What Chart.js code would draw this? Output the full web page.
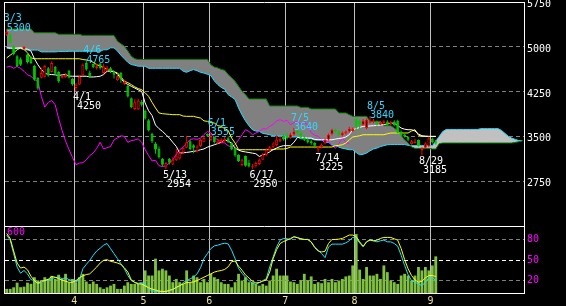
<!DOCTYPE html>
<html>
<head>
<meta charset="utf-8">
<script src="https://cdn.jsdelivr.net/npm/chart.js@4.4.0/dist/chart.umd.min.js"></script>
<style>
  html, body { margin: 0; padding: 0; background: #000; }
  #wrap { position: relative; width: 566px; height: 306px; background: #000; overflow: hidden; }
  #priceCanvas { position: absolute; left: 0; top: 0; }
  #oscCanvas { position: absolute; left: 0; top: 226px; }
</style>
</head>
<body>
<div id="wrap">
  <canvas id="priceCanvas" width="566" height="226"></canvas>
  <canvas id="oscCanvas" width="566" height="80"></canvas>
</div>
<script>
// Trading days (month/day)
const marDays = [3,4,7,8,9,10,11,14,15,16,17,18,22,23,24,25,28,29,30,31];
const aprDays = [1,4,5,6,7,8,11,12,13,14,15,18,19,20,21,22,25,26,27,28];
const mayDays = [2,6,9,10,11,12,13,16,17,18,19,20,23,24,25,26,27,30,31];
const junDays = [1,2,3,6,7,8,9,10,13,14,15,16,17,20,21,22,23,24,27,28,29,30];
const julDays = [1,4,5,6,7,8,11,12,13,14,15,19,20,21,22,25,26,27,28,29];
const augDays = [1,2,3,4,5,8,9,10,12,15,16,17,18,19,22,23,24,25,26,29,30,31];
const sepDays = [1,2];
const futureSlots = 25;

// Candles
const opens = [5200,5200,5010,4840,4790,4960,4870,4820,4680,4480,
  4480,4500,4640,4580,4660,4580,4480,4490,4600,4460,
  4310,4370,4520,4730,4560,4710,4640,4720,4560,4600,
  4640,4590,4440,4560,4380,4350,4140,3960,3950,4080,
  3930,3770,3545,3380,3290,3120,2990,3120,3030,3100,
  3130,3230,3310,3420,3350,3250,3340,3410,3545,3440,
  3490,3390,3400,3420,3470,3390,3300,3190,3020,3170,
  3060,2990,3000,3040,3110,3190,3270,3320,3350,3420,
  3500,3520,3470,3530,3600,3560,3480,3450,3420,3390,
  3280,3320,3380,3450,3540,3610,3580,3520,3550,3580,
  3590,3790,3760,3690,3640,3730,3740,3740,3700,3720,
  3750,3700,3750,3760,3580,3530,3490,3370,3390,3440,
  3270,3310,3330,3460,3420];
const highs = [5300,5230,5030,4860,4820,5010,4890,4840,4700,4490,
  4650,4700,4660,4760,4680,4590,4530,4560,4610,4480,
  4390,4520,4720,4765,4600,4720,4720,4730,4720,4680,
  4660,4600,4540,4580,4450,4360,4150,4120,4130,4110,
  3950,3790,3560,3400,3330,3140,3070,3140,3150,3290,
  3260,3320,3510,3440,3370,3350,3460,3510,3550,3555,
  3500,3460,3470,3490,3500,3400,3310,3200,3130,3180,
  3110,3040,3080,3130,3220,3300,3340,3400,3520,3500,
  3540,3560,3560,3640,3620,3580,3500,3470,3440,3400,
  3340,3380,3460,3550,3630,3630,3600,3580,3600,3660,
  3650,3800,3780,3790,3800,3840,3790,3760,3760,3780,
  3770,3760,3770,3780,3600,3550,3500,3440,3460,3450,
  3320,3400,3500,3480,3440];
const lows = [5180,5050,4860,4660,4680,4950,4720,4710,4430,4280,
  4470,4490,4500,4570,4530,4400,4470,4480,4470,4350,
  4250,4360,4510,4600,4480,4640,4620,4620,4550,4590,
  4560,4470,4430,4400,4360,4150,3970,3940,3940,4000,
  3780,3580,3390,3210,3130,2990,2954,3030,3020,3090,
  3110,3200,3300,3270,3220,3230,3320,3400,3490,3420,
  3380,3370,3380,3400,3390,3270,3160,3070,3000,2990,
  2980,2950,2980,3020,3100,3170,3250,3300,3330,3400,
  3430,3450,3460,3510,3530,3460,3420,3380,3360,3300,
  3225,3300,3370,3430,3520,3560,3510,3500,3530,3560,
  3580,3600,3620,3680,3620,3720,3720,3680,3690,3700,
  3680,3690,3670,3550,3500,3480,3420,3360,3380,3330,
  3185,3290,3320,3380,3360];
const closes = [5250,5070,4880,4680,4700,4995,4740,4730,4450,4300,
  4560,4680,4520,4730,4550,4420,4510,4530,4480,4370,
  4370,4500,4700,4620,4500,4658,4675,4640,4670,4640,
  4590,4530,4507,4451,4420,4170,3990,4070,4100,4030,
  3800,3600,3420,3280,3150,3025,3053,3060,3109,3180,
  3221,3300,3400,3290,3310,3330,3440,3472,3510,3500,
  3400,3430,3440,3460,3400,3280,3180,3090,3100,3010,
  2996,3008,3053,3109,3200,3277,3320,3380,3450,3460,
  3450,3470,3530,3580,3560,3480,3444,3400,3389,3344,
  3322,3360,3444,3528,3612,3584,3528,3556,3584,3630,
  3624,3668,3700,3760,3780,3752,3768,3696,3730,3752,
  3696,3740,3690,3560,3520,3500,3444,3420,3416,3344,
  3300,3380,3470,3400,3380];

// Ichimoku lines
const conversionLine = [4983,4980,4975,4980,4983,4970,4960,4930,4800,4700,
  4620,4560,4535,4535,4530,4520,4530,4535,4510,4507,
  4507,4507,4507,4507,4495,4495,4500,4507,4535,4591,
  4591,4591,4540,4470,4400,4370,4339,4310,4280,4255,
  4060,3930,3850,3690,3630,3584,3530,3472,3400,3332,
  3221,3225,3232,3240,3250,3260,3277,3290,3320,3340,
  3360,3380,3399,3444,3420,3389,3305,3270,3250,3240,
  3230,3220,3210,3164,3190,3210,3240,3280,3305,3330,
  3344,3344,3344,3400,3480,3490,3480,3472,3472,3450,
  3444,3444,3444,3444,3444,3455,3465,3472,3490,3528,
  3612,3630,3650,3668,3670,3675,3679,3685,3690,3696,
  3710,3720,3724,3680,3640,3620,3612,3612,3590,3540,
  3511,3505,3500,3500,3500];
const baseLine = [4815,4860,4900,4950,4983,4955,4900,4815,4800,4800,
  4800,4800,4800,4800,4800,4800,4800,4800,4800,4800,
  4800,4800,4787,4780,4770,4740,4700,4680,4650,4619,
  4600,4580,4563,4500,4423,4400,4367,4330,4300,4283,
  4230,4171,4070,3976,3893,3880,3875,3870,3864,3864,
  3864,3840,3836,3836,3836,3820,3808,3760,3752,3730,
  3724,3680,3668,3630,3600,3472,3389,3277,3277,3277,
  3277,3277,3277,3277,3277,3277,3277,3277,3289,3289,
  3289,3300,3322,3322,3322,3322,3322,3322,3322,3322,
  3322,3322,3322,3322,3322,3344,3350,3360,3389,3440,
  3490,3500,3511,3528,3528,3528,3528,3528,3528,3528,
  3544,3557,3557,3557,3557,3557,3557,3590,3612,3520,
  3500,3500,3500,3500,3500];
const spanA = [4983,4970,4970,4970,4970,4955,4945,4945,4945,4945,
  4915,4915,4915,4915,4915,4920,4920,4920,4925,4925,
  4925,4925,4925,4925,4925,4925,4925,4925,4950,4950,
  4983,4983,4930,4860,4800,4740,4703,4690,4675,4675,
  4675,4640,4640,4640,4640,4640,4640,4640,4640,4640,
  4640,4591,4573,4600,4619,4600,4573,4560,4540,4518,
  4430,4367,4320,4290,4199,4160,4116,3976,3860,3760,
  3680,3612,3590,3584,3550,3540,3528,3510,3510,3510,
  3510,3490,3490,3490,3490,3460,3460,3460,3460,3440,
  3440,3440,3400,3400,3360,3340,3322,3300,3290,3277,
  3277,3230,3193,3200,3221,3260,3290,3305,3330,3345,
  3360,3365,3365,3365,3365,3365,3350,3345,3345,3345,
  3345,3345,3345,3345,3420,3500,3580,3615,3615,3615,
  3615,3615,3615,3615,3615,3615,3615,3630,3630,3630,
  3630,3630,3630,3600,3550,3500,3470,3450,3430,3430];
const spanB = [5300,5300,5300,5300,5300,5300,5300,5300,5235,5235,
  5235,5235,5235,5235,5235,5210,5210,5210,5210,5210,
  5210,5210,5190,5190,5190,5190,5190,5190,5190,5190,
  5190,5190,5094,5050,5010,4930,4842,4800,4787,4787,
  4787,4787,4787,4787,4787,4787,4787,4787,4787,4787,
  4787,4787,4787,4787,4787,4787,4787,4787,4787,4700,
  4660,4647,4620,4607,4535,4480,4423,4340,4255,4200,
  4127,4127,4127,4127,4127,4127,4010,4010,4010,4010,
  4010,4010,4010,4010,4010,3985,3985,3985,3960,3960,
  3960,3960,3960,3960,3960,3960,3893,3893,3893,3864,
  3836,3836,3836,3836,3836,3752,3752,3752,3752,3680,
  3680,3680,3640,3600,3520,3440,3390,3322,3300,3300,
  3300,3300,3300,3289,3289,3377,3389,3389,3389,3389,
  3389,3389,3389,3389,3389,3389,3389,3389,3389,3389,
  3389,3389,3389,3389,3389,3389,3389,3400,3410,3427];

// Lower panel
const volumes = [45,45,59,100,60,65,100,90,148,120,
  105,148,133,160,133,170,133,178,104,133,
  104,148,178,110,89,110,89,59,45,59,
  74,89,45,45,74,104,89,89,89,95,
  208,163,163,312,208,223,208,163,104,133,
  104,89,208,104,163,148,104,133,104,178,
  148,133,104,89,89,59,104,178,119,148,
  104,104,89,74,89,74,119,163,223,163,
  163,163,110,104,89,119,178,119,155,89,
  104,95,133,104,133,104,119,133,155,163,
  252,529,215,133,238,163,163,178,133,252,
  193,119,104,89,163,178,163,119,163,238,
  208,238,208,252,332];
const oscFast = [86.7,79.2,59.4,39.6,30.6,34.6,29.6,21.2,19.7,14.8,
  17.3,19.7,20.7,22.7,24.2,24.7,22.7,23.7,21.2,19.7,
  17.8,20.7,37.1,43.5,49.5,56.9,63.3,67.3,71.8,74.2,
  66.8,59.4,52,44.5,37.1,27.2,19.7,17.3,15.8,16.8,
  14.8,7.3,4.8,3.8,3.3,3.3,3.3,5.3,6.8,9.3,
  11.8,16.8,19.7,22.2,24.7,29.6,38.6,52,59.4,66.8,
  70.8,71.8,73.5,74.7,73.7,64.3,52,37.6,30.6,24.7,
  19.7,15.8,14.3,16.8,19.7,22.2,39.6,54.5,69.3,79.2,
  81.7,81.2,80.2,84.2,83.2,81.2,80.2,80.2,76.2,69.3,
  64.3,59.4,53.5,69.3,73.3,73.3,73.3,73.3,75.2,78.2,
  83.2,81.7,75.2,69.3,76.7,80.2,78.2,76.7,78.2,79.2,
  76.7,76.7,74.2,70.3,56.9,42,28.6,19.7,17.3,14.8,
  12.3,17.3,23.7,24.7,19.7];
const oscSlow = [89.1,81.7,63.3,45.5,38.1,39.6,35.6,26.2,19.7,15.8,
  18.8,19.7,21.7,25.7,24.7,22.7,20.2,18.8,17.3,17.3,
  19.7,23.7,26.7,28.6,29.6,34.6,39.6,45.5,49.5,50.5,
  48,47,45.5,43.5,38.6,32.2,20.7,16.8,14.8,14.8,
  11.8,9.3,7.3,5.8,4.3,3.8,3.8,5.3,6.8,9.8,
  12.3,14.8,16.8,17.3,17.8,19.7,22.2,24.7,27.2,29.6,
  32.2,33.6,34.6,36.1,40,47.5,48.5,41,35,28,
  23.7,18.8,16.3,16.8,18.8,20.7,32.2,52,65.3,74.2,
  77.2,79.2,81.7,84.2,82.7,81.2,80.2,80.2,76.7,68.3,
  63.3,61.8,62.8,74.2,80.2,80.2,80.7,81.7,84.2,86.7,
  86.7,84.2,76.7,70.3,76.7,79.2,78.2,79.2,81.7,83.2,
  83.2,83.2,81.2,79.2,66.8,50.5,37.1,27.2,20.7,17.3,
  18.8,23.7,27.2,27.2,25.7];

const priceTicks = [2750, 3500, 4250, 5000, 5750];
const oscTicks = [20, 50, 80];
const volumeTop = 600;

const peakLabels = [
  { date: '3/3', price: 5300, kind: 'high' },
  { date: '4/6', price: 4765, kind: 'high' },
  { date: '6/1', price: 3555, kind: 'high' },
  { date: '7/5', price: 3640, kind: 'high' },
  { date: '8/5', price: 3840, kind: 'high' },
  { date: '4/1', price: 4250, kind: 'low' },
  { date: '5/13', price: 2954, kind: 'low' },
  { date: '6/17', price: 2950, kind: 'low' },
  { date: '7/14', price: 3225, kind: 'low' },
  { date: '8/29', price: 3185, kind: 'low' },
];

// build categories
const tradingDates = [].concat(
  marDays.map(d => '3/' + d), aprDays.map(d => '4/' + d), mayDays.map(d => '5/' + d),
  junDays.map(d => '6/' + d), julDays.map(d => '7/' + d), augDays.map(d => '8/' + d),
  sepDays.map(d => '9/' + d));
const categories = tradingDates.concat(new Array(futureSlots).fill(''));
const monthStarts = [];
tradingDates.forEach((d, i) => {
  if (i > 0 && d.split('/')[0] !== tradingDates[i - 1].split('/')[0]) monthStarts.push(i);
});

const lagging = closes.slice(25);
const RED = '#ff0000', GREEN = '#00c800', CYAN = '#20e0ff', TXT_CYAN = '#30d8ff';
const isUp = closes.map((c, i) => c >= opens[i]);
const candleColors = isUp.map(u => u ? RED : GREEN);
const bodyFill = isUp.map(u => u ? '#000000' : GREEN);

Chart.defaults.font.family = 'DejaVu Sans Mono';
Chart.defaults.font.size = 10;

const monthGrid = ctx => monthStarts.includes(ctx.index) ? '#c0c0c0' : 'rgba(0,0,0,0)';

function framePlugin(drawTop, drawBottom) {
  return {
    id: 'frame',
    afterDraw(chart) {
      const { ctx, chartArea: a } = chart;
      ctx.save();
      ctx.strokeStyle = '#ffffff';
      ctx.lineWidth = 1;
      ctx.beginPath();
      ctx.moveTo(a.left - 0.5, a.top); ctx.lineTo(a.left - 0.5, a.bottom);
      ctx.moveTo(a.right + 0.5, a.top); ctx.lineTo(a.right + 0.5, a.bottom);
      if (drawTop) { ctx.moveTo(a.left - 1, a.top + 0.5); ctx.lineTo(a.right + 1, a.top + 0.5); }
      if (drawBottom) { ctx.moveTo(a.left - 1, a.bottom - 0.5); ctx.lineTo(a.right + 1, a.bottom - 0.5); }
      ctx.stroke();
      ctx.restore();
    }
  };
}

// high / low annotations
const peakLabelPlugin = {
  id: 'peakLabels',
  afterDatasetsDraw(chart) {
    const { ctx, scales } = chart;
    ctx.save();
    ctx.font = '10px "DejaVu Sans Mono"';
    ctx.textBaseline = 'alphabetic';
    peakLabels.forEach(p => {
      const idx = tradingDates.indexOf(p.date);
      const x = scales.x.getPixelForValue(idx);
      const y = scales.y.getPixelForValue(p.price);
      if (p.kind === 'high') {
        ctx.fillStyle = TXT_CYAN;
        ctx.fillText(p.date, x - 3, y - 7.5);
        ctx.fillText(String(p.price), x, y + 2);
      } else {
        ctx.fillStyle = '#ffffff';
        ctx.fillText(p.date, x - 3, y + 8.5);
        ctx.fillText(String(p.price), x + 1, y + 17.5);
      }
    });
    ctx.restore();
  }
};

const lineStyle = { type: 'line', borderWidth: 1, pointRadius: 0, tension: 0, fill: false };

new Chart(document.getElementById('priceCanvas'), {
  type: 'bar',
  data: {
    labels: categories,
    datasets: [
      Object.assign({}, lineStyle, { label: 'Span A', data: spanA, borderColor: CYAN,
        fill: { target: 1, above: '#c0c0c0', below: '#808080' }, order: 10 }),
      Object.assign({}, lineStyle, { label: 'Span B', data: spanB, borderColor: '#008000', order: 9 }),
      Object.assign({}, lineStyle, { label: 'Lagging', data: lagging, borderColor: '#ff00ff', order: 8 }),
      Object.assign({}, lineStyle, { label: 'Base', data: baseLine, borderColor: '#ffff00', order: 7 }),
      Object.assign({}, lineStyle, { label: 'Conversion', data: conversionLine, borderColor: '#ffffff', order: 6 }),
      { type: 'bar', label: 'Wick', data: lows.map((l, i) => [l, highs[i]]),
        backgroundColor: candleColors, barThickness: 1, grouped: false, inflateAmount: 0, order: 3 },
      { type: 'bar', label: 'Body', data: opens.map((o, i) => [o, closes[i]]),
        backgroundColor: bodyFill, borderColor: candleColors, borderWidth: 1,
        borderSkipped: false, barThickness: 3, grouped: false, inflateAmount: 0, order: 2 }
    ]
  },
  options: {
    responsive: false,
    animation: false,
    devicePixelRatio: 1,
    layout: { padding: { left: 5, top: 2, right: 0, bottom: 0 } },
    plugins: { legend: { display: false }, tooltip: { enabled: false } },
    scales: {
      x: {
        offset: true,
        z: 1,
        grid: { offset: true, color: monthGrid, drawTicks: false },
        border: { display: false },
        ticks: { display: false, autoSkip: false },
        afterFit(s) { s.height = 0; s.paddingLeft = 0; s.paddingRight = 0; }
      },
      y: {
        position: 'right',
        min: 2000,
        max: 5750,
        afterBuildTicks(axis) { axis.ticks = priceTicks.map(v => ({ value: v })); },
        grid: { color: ctx => (ctx.tick && ctx.tick.value === 5750) ? 'rgba(0,0,0,0)' : '#808080', drawTicks: false },
        border: { display: false, dash: [4, 3] },
        ticks: { color: '#ffffff', padding: 3, labelOffset: 2.5, callback: v => String(v) },
        afterFit(s) { s.width = 42; s.paddingTop = 0; s.paddingBottom = 0; }
      }
    }
  },
  plugins: [peakLabelPlugin, framePlugin(true, false)]
});

const volumeLabelPlugin = {
  id: 'volumeLabel',
  afterDraw(chart) {
    const { ctx, chartArea: a } = chart;
    ctx.save();
    ctx.font = '10px "DejaVu Sans Mono"';
    ctx.fillStyle = '#ff00ff';
    ctx.textBaseline = 'alphabetic';
    ctx.fillText(String(volumeTop), a.left + 2, a.top + 9);
    ctx.restore();
  }
};

new Chart(document.getElementById('oscCanvas'), {
  type: 'bar',
  data: {
    labels: categories,
    datasets: [
      Object.assign({}, lineStyle, { label: 'Slow', data: oscSlow, borderColor: '#ffff00', yAxisID: 'y', order: 1 }),
      Object.assign({}, lineStyle, { label: 'Fast', data: oscFast, borderColor: CYAN, yAxisID: 'y', order: 2 }),
      { type: 'bar', label: 'Volume', data: volumes, yAxisID: 'vol', backgroundColor: '#80c040',
        barPercentage: 0.82, categoryPercentage: 1, inflateAmount: 0, order: 5 }
    ]
  },
  options: {
    responsive: false,
    animation: false,
    devicePixelRatio: 1,
    layout: { padding: { left: 5, top: 0, right: 0, bottom: 0 } },
    plugins: { legend: { display: false }, tooltip: { enabled: false } },
    scales: {
      x: {
        offset: true,
        z: 1,
        grid: { offset: true, color: monthGrid, drawTicks: false },
        border: { display: false },
        ticks: {
          autoSkip: false, maxRotation: 0, minRotation: 0, padding: 1, color: '#e8e0a0', labelOffset: -1.7,
          callback: (v, i) => monthStarts.includes(i) ? tradingDates[i].split('/')[0] : ''
        },
        afterFit(s) { s.height = 12; s.paddingLeft = 0; s.paddingRight = 0; }
      },
      y: {
        position: 'right',
        min: 0,
        max: 100,
        afterBuildTicks(axis) { axis.ticks = oscTicks.map(v => ({ value: v })); },
        grid: { color: ctx => (ctx.tick && ctx.tick.value === 50) ? '#ffffff' : '#808080', drawTicks: false },
        border: { display: false, dash: [4, 3] },
        ticks: { color: '#ff00ff', padding: 3, callback: v => String(v) },
        afterFit(s) { s.width = 42; s.paddingTop = 0; s.paddingBottom = 0; }
      },
      vol: {
        position: 'left',
        display: false,
        min: 0,
        max: volumeTop
      }
    }
  },
  plugins: [volumeLabelPlugin, framePlugin(true, true)]
});
</script>
</body>
</html>
